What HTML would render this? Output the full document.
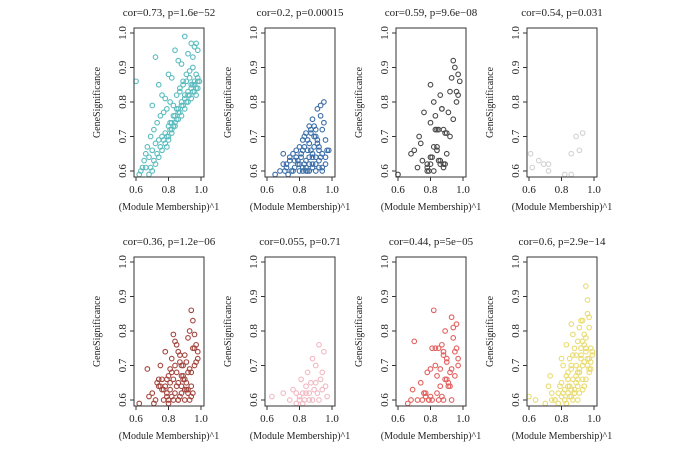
<!DOCTYPE html>
<html><head><meta charset="utf-8"><style>
html,body{margin:0;padding:0;background:#fff;}
svg{display:block;font-family:"Liberation Serif",serif;}
</style></head><body>
<svg id="chart" width="700" height="456" viewBox="0 0 700 456" xmlns="http://www.w3.org/2000/svg"></svg>
<script>
const titles=["cor=0.73, p=1.6e\u221252","cor=0.2, p=0.00015","cor=0.59, p=9.6e\u221208","cor=0.54, p=0.031","cor=0.36, p=1.2e\u221206","cor=0.055, p=0.71","cor=0.44, p=5e\u221205","cor=0.6, p=2.9e\u221214"];
const colors=["#5bbcbf","#3b6ea8","#4a4a4a","#d4d0d4","#a4463f","#f2b9c3","#e3615f","#e9dc72"];
const moduleNames=["turquoise","blue","grey","lightgrey","brown","pink","red","yellow"];
const xTicks=[0.6,0.8,1.0];
const yTicks=[0.6,0.7,0.8,0.9,1.0];
const x1=[0.6,0.72,0.74,0.7,0.76,0.78,0.8,0.82,0.84,0.86,0.88,0.9,0.92,0.94,0.95,0.96,0.97,0.98,0.93,0.91,0.89,0.87,0.85,0.83,0.81,0.79,0.77,0.75,0.73,0.71,0.69,0.67,0.66,0.65,0.64,0.68,0.7,0.72,0.74,0.76,0.78,0.8,0.82,0.84,0.86,0.88,0.9,0.92,0.94,0.96,0.98,0.97,0.95,0.93,0.91,0.89,0.87,0.85,0.83,0.81,0.79,0.77,0.75,0.73,0.71,0.69,0.92,0.94,0.96,0.98,0.9,0.88,0.86,0.84,0.82,0.8,0.78,0.76,0.74,0.72,0.7,0.68,0.95,0.97,0.93,0.91,0.89,0.87,0.85,0.83,0.81,0.8,0.79,0.82,0.84,0.86,0.88,0.9,0.92,0.94,0.96,0.98,0.97,0.99,0.95,0.63,0.62,0.66];
const y1=[0.86,0.93,0.85,0.79,0.82,0.81,0.88,0.87,0.95,0.92,0.91,0.99,0.94,0.97,0.93,0.96,0.97,0.95,0.89,0.86,0.85,0.83,0.82,0.79,0.8,0.78,0.77,0.76,0.74,0.72,0.7,0.67,0.65,0.63,0.61,0.64,0.66,0.68,0.69,0.7,0.71,0.73,0.74,0.76,0.78,0.79,0.81,0.82,0.84,0.85,0.86,0.84,0.83,0.82,0.8,0.79,0.77,0.75,0.73,0.72,0.7,0.69,0.67,0.65,0.63,0.61,0.8,0.81,0.83,0.84,0.78,0.76,0.75,0.73,0.71,0.7,0.68,0.66,0.64,0.62,0.6,0.59,0.85,0.88,0.87,0.88,0.86,0.84,0.78,0.76,0.74,0.69,0.67,0.72,0.74,0.77,0.8,0.82,0.83,0.85,0.86,0.87,0.82,0.86,0.9,0.6,0.59,0.61];
const x2=[0.65,0.68,0.7,0.72,0.74,0.76,0.78,0.8,0.82,0.84,0.86,0.88,0.9,0.92,0.94,0.96,0.97,0.95,0.93,0.91,0.89,0.87,0.85,0.83,0.81,0.79,0.77,0.75,0.73,0.71,0.8,0.82,0.84,0.86,0.88,0.9,0.92,0.94,0.96,0.87,0.89,0.91,0.93,0.85,0.83,0.81,0.79,0.77,0.86,0.88,0.9,0.92,0.94,0.9,0.88,0.86,0.84,0.82,0.95,0.93,0.91,0.89,0.87,0.85,0.83,0.8,0.78,0.76,0.92,0.94,0.88,0.86,0.84,0.9,0.96,0.82,0.74,0.72,0.7,0.98];
const y2=[0.59,0.6,0.62,0.61,0.63,0.6,0.64,0.62,0.66,0.61,0.68,0.65,0.7,0.67,0.72,0.69,0.66,0.74,0.76,0.78,0.73,0.71,0.69,0.67,0.65,0.63,0.61,0.6,0.59,0.6,0.6,0.61,0.63,0.64,0.62,0.6,0.63,0.65,0.62,0.66,0.67,0.69,0.64,0.6,0.62,0.64,0.62,0.63,0.6,0.61,0.64,0.66,0.61,0.72,0.75,0.73,0.71,0.69,0.8,0.79,0.68,0.7,0.72,0.66,0.7,0.67,0.66,0.65,0.61,0.6,0.64,0.62,0.6,0.62,0.64,0.6,0.64,0.62,0.65,0.66];
const x3=[0.6,0.68,0.7,0.72,0.74,0.73,0.75,0.76,0.78,0.79,0.8,0.8,0.81,0.82,0.83,0.84,0.85,0.86,0.87,0.88,0.89,0.9,0.91,0.92,0.93,0.94,0.95,0.96,0.97,0.98,0.94,0.92,0.9,0.88,0.86,0.84,0.82,0.8,0.78,0.83,0.85,0.87,0.89,0.96,0.97,0.86,0.88,0.84,0.82,0.8,0.78];
const y3=[0.59,0.65,0.66,0.61,0.68,0.7,0.63,0.77,0.6,0.6,0.85,0.74,0.64,0.8,0.76,0.72,0.72,0.82,0.78,0.72,0.62,0.65,0.77,0.83,0.87,0.92,0.9,0.8,0.82,0.86,0.75,0.7,0.71,0.62,0.63,0.67,0.67,0.62,0.61,0.72,0.63,0.78,0.71,0.83,0.88,0.62,0.61,0.66,0.6,0.64,0.62];
const x4=[0.61,0.62,0.66,0.69,0.72,0.72,0.82,0.86,0.86,0.89,0.91,0.93];
const y4=[0.65,0.61,0.63,0.62,0.62,0.6,0.59,0.59,0.65,0.7,0.66,0.71];
const x5=[0.62,0.67,0.68,0.7,0.72,0.74,0.75,0.76,0.77,0.78,0.79,0.8,0.81,0.82,0.83,0.84,0.85,0.86,0.87,0.88,0.89,0.9,0.91,0.92,0.93,0.94,0.95,0.96,0.97,0.98,0.95,0.93,0.91,0.89,0.87,0.85,0.83,0.81,0.79,0.77,0.75,0.73,0.71,0.86,0.88,0.9,0.92,0.94,0.96,0.84,0.82,0.8,0.78,0.76,0.74,0.9,0.92,0.94,0.88,0.86,0.84,0.82,0.8,0.96,0.98,0.93,0.91,0.89,0.87,0.85,0.83,0.81,0.79,0.95,0.97,0.9,0.92,0.88,0.86,0.94];
const y5=[0.59,0.69,0.61,0.62,0.6,0.64,0.7,0.66,0.63,0.74,0.61,0.67,0.65,0.72,0.79,0.77,0.68,0.74,0.71,0.62,0.67,0.73,0.65,0.78,0.8,0.86,0.83,0.75,0.71,0.74,0.75,0.69,0.71,0.7,0.73,0.76,0.66,0.63,0.62,0.6,0.64,0.65,0.59,0.6,0.64,0.66,0.63,0.61,0.79,0.62,0.61,0.6,0.64,0.63,0.66,0.6,0.62,0.64,0.67,0.65,0.7,0.68,0.59,0.7,0.72,0.6,0.63,0.66,0.61,0.64,0.6,0.69,0.66,0.62,0.76,0.63,0.68,0.7,0.6,0.68];
const x6=[0.63,0.7,0.74,0.76,0.78,0.8,0.81,0.82,0.83,0.84,0.85,0.86,0.87,0.88,0.89,0.9,0.91,0.92,0.93,0.94,0.95,0.96,0.97,0.86,0.88,0.9,0.84,0.82,0.92,0.94,0.8,0.78];
const y6=[0.61,0.62,0.6,0.63,0.59,0.61,0.66,0.62,0.6,0.64,0.68,0.6,0.65,0.72,0.63,0.7,0.62,0.76,0.66,0.68,0.74,0.64,0.61,0.62,0.6,0.65,0.62,0.59,0.6,0.63,0.6,0.62];
const x7=[0.66,0.68,0.69,0.7,0.72,0.74,0.75,0.76,0.77,0.78,0.79,0.8,0.81,0.82,0.83,0.84,0.85,0.86,0.87,0.88,0.89,0.9,0.91,0.92,0.93,0.94,0.95,0.96,0.97,0.97,0.95,0.93,0.91,0.89,0.87,0.85,0.83,0.81,0.79,0.77,0.86,0.88,0.9,0.92,0.94,0.84,0.8,0.76,0.9,0.93,0.96,0.88];
const y7=[0.59,0.6,0.63,0.77,0.6,0.65,0.6,0.62,0.61,0.68,0.6,0.69,0.75,0.86,0.7,0.62,0.75,0.64,0.76,0.73,0.8,0.72,0.65,0.68,0.84,0.81,0.74,0.82,0.72,0.7,0.67,0.69,0.64,0.66,0.61,0.6,0.75,0.6,0.6,0.62,0.69,0.74,0.66,0.64,0.78,0.67,0.61,0.62,0.71,0.6,0.75,0.6];
const x8=[0.6,0.64,0.7,0.72,0.73,0.74,0.76,0.78,0.79,0.8,0.8,0.81,0.82,0.83,0.84,0.84,0.85,0.86,0.86,0.87,0.88,0.88,0.89,0.9,0.9,0.91,0.92,0.92,0.93,0.94,0.94,0.95,0.95,0.96,0.96,0.97,0.97,0.98,0.98,0.99,0.81,0.83,0.85,0.87,0.89,0.91,0.93,0.95,0.97,0.82,0.84,0.86,0.88,0.9,0.92,0.94,0.96,0.8,0.82,0.84,0.86,0.88,0.9,0.92,0.94,0.96,0.98,0.85,0.87,0.89,0.91,0.93,0.95,0.97,0.83,0.86,0.9,0.93,0.95,0.97,0.99,0.78,0.76,0.74,0.87,0.89,0.91,0.93];
const y8=[0.61,0.6,0.59,0.64,0.67,0.62,0.6,0.59,0.64,0.72,0.65,0.7,0.6,0.76,0.62,0.68,0.72,0.63,0.82,0.66,0.75,0.62,0.7,0.77,0.64,0.69,0.83,0.73,0.66,0.79,0.71,0.93,0.75,0.89,0.7,0.84,0.72,0.75,0.69,0.73,0.62,0.67,0.61,0.6,0.65,0.68,0.7,0.78,0.81,0.6,0.64,0.69,0.63,0.66,0.72,0.76,0.85,0.61,0.63,0.66,0.7,0.62,0.68,0.75,0.64,0.72,0.71,0.64,0.73,0.67,0.62,0.77,0.74,0.68,0.59,0.61,0.6,0.63,0.66,0.69,0.74,0.62,0.6,0.6,0.79,0.73,0.81,0.83];
const xs=[x1,x2,x3,x4,x5,x6,x7,x8];
const ys=[y1,y2,y3,y4,y5,y6,y7,y8];

const NS="http://www.w3.org/2000/svg";
const svg=document.getElementById('chart');
function mk(tag,attrs,parent){const e=document.createElementNS(NS,tag);for(const k in attrs)e.setAttribute(k,attrs[k]);parent.appendChild(e);return e;}
const lefts=[134,265,396,527], tops=[28,257], W=70, H=149;
for(let p=0;p<8;p++){
  const L=lefts[p%4], T=tops[Math.floor(p/4)];
  const xS=v=>L+2+(v-0.6)/0.4*65;
  const yS=v=>T+H-6-(v-0.6)/0.4*(H-11);
  const g=mk('g',{},svg);
  
  
  const t=mk('text',{x:L+W/2,y:T-12,'text-anchor':'middle','font-size':'11',fill:'#222'},g);
  t.textContent=titles[p];
  
  
  const cg=mk('g',{},g);
  
  
  for(let i=0;i<xs[p].length;i++){
    const cx=xS(xs[p][i]), cy=yS(ys[p][i]);
    if(cy>T+H-1||cy<T) continue;
    const c=mk('circle',{cx:cx,cy:cy,r:2.3,fill:'none',stroke:colors[p],'stroke-width':1.1},cg);
    
    
  }
  const box=mk('rect',{x:L,y:T,width:W,height:H,fill:'none',stroke:'#333','stroke-width':1},g);
  
  
  const xa=mk('g',{},g);
  
  
  mk('line',{x1:xS(xTicks[0]),x2:xS(xTicks[xTicks.length-1]),y1:T+H,y2:T+H,stroke:'#333'},xa);
  xTicks.forEach(v=>{
    mk('line',{x1:xS(v),x2:xS(v),y1:T+H,y2:T+H+4,stroke:'#333'},xa);
    const tl=mk('text',{x:xS(v),y:T+H+16,'text-anchor':'middle','font-size':'11',fill:'#222'},xa);
    tl.textContent=v.toFixed(1);
    
    
  });
  const xl=mk('text',{x:L+W/2,y:T+H+33,'text-anchor':'middle','font-size':'10',fill:'#222'},g);
  xl.textContent='(Module Membership)^1';
  
  
  const ya=mk('g',{},g);
  
  
  mk('line',{x1:L,x2:L,y1:yS(yTicks[0]),y2:yS(yTicks[yTicks.length-1]),stroke:'#333'},ya);
  yTicks.forEach(v=>{
    mk('line',{x1:L-4,x2:L,y1:yS(v),y2:yS(v),stroke:'#333'},ya);
    const yl=mk('text',{x:0,y:0,'text-anchor':'middle','font-size':'11',fill:'#222',transform:`translate(${L-8},${yS(v)}) rotate(-90)`},ya);
    yl.textContent=v.toFixed(1);
    
    
  });
  const yt=mk('text',{x:0,y:0,'text-anchor':'middle','font-size':'10',fill:'#222',transform:`translate(${L-34},${T+H/2}) rotate(-90)`},g);
  yt.textContent='GeneSignificance';
  
  
}
</script>
</body></html>
